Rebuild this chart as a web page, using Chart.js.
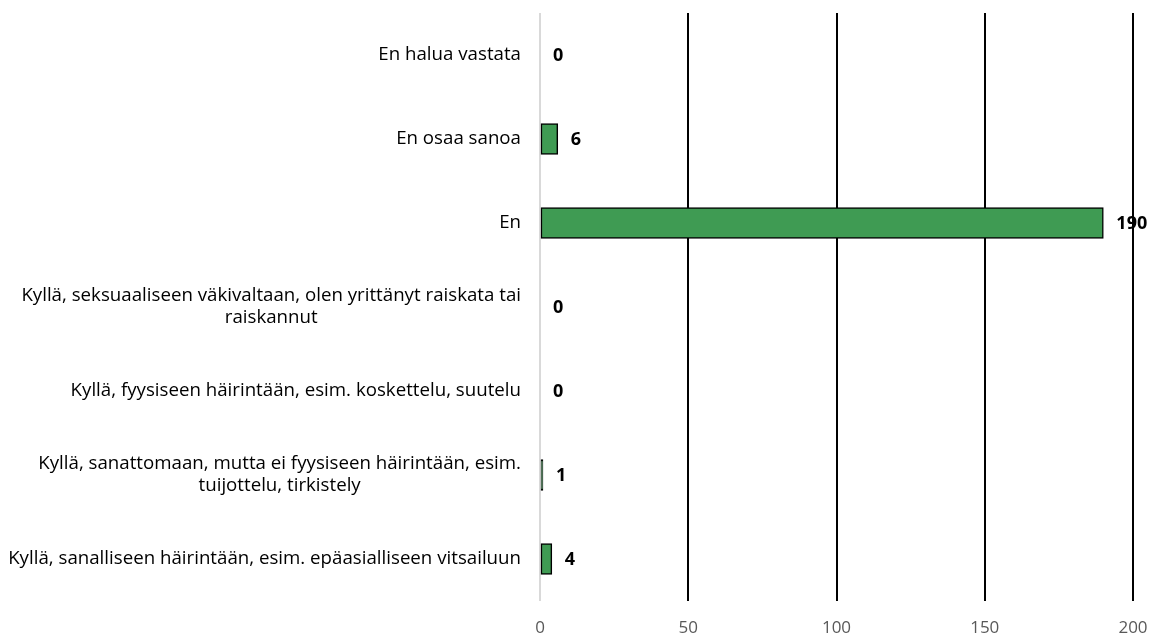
<!DOCTYPE html>
<html>
<head>
<meta charset="utf-8">
<script src="https://cdn.jsdelivr.net/npm/chart.js@4"></script>
<style>
  html, body { margin: 0; padding: 0; background: #fff; }
  #wrap { width: 1161px; height: 638px; }
</style>
</head>
<body>
<div id="wrap"><canvas id="chart"></canvas></div>
<script>
// Data
const categories = [
    ['En halua vastata'],
    ['En osaa sanoa'],
    ['En'],
    ['Kyllä, seksuaaliseen väkivaltaan, olen yrittänyt raiskata tai', 'raiskannut'],
    ['Kyllä, fyysiseen häirintään, esim. koskettelu, suutelu'],
    ['Kyllä, sanattomaan, mutta ei fyysiseen häirintään, esim.', 'tuijottelu, tirkistely'],
    ['Kyllä, sanalliseen häirintään, esim. epäasialliseen vitsailuun']
];
const answers = [0, 6, 190, 0, 0, 1, 4];
const xTicks = [0, 50, 100, 150, 200];

const fontFamily = '"Open Sans", sans-serif';

// Category labels: right-aligned blocks, lines centered within the block
const categoryLabels = {
    id: 'categoryLabels',
    afterDraw(chart) {
        const ctx = chart.ctx;
        const yScale = chart.scales.y;
        const right = chart.chartArea.left - 19;
        const lineH = 22;
        ctx.save();
        ctx.font = '18.7px ' + fontFamily;
        ctx.fillStyle = '#000';
        ctx.textAlign = 'center';
        ctx.textBaseline = 'middle';
        categories.forEach((lines, i) => {
            const y = yScale.getPixelForTick(i);
            const w = Math.max(...lines.map(l => ctx.measureText(l).width));
            const cx = right - w / 2;
            const y0 = y - (lines.length - 1) * lineH / 2;
            lines.forEach((l, j) => ctx.fillText(l, cx, y0 + j * lineH));
        });
        ctx.restore();
    }
};

// Value labels at the end of each bar
const valueLabels = {
    id: 'valueLabels',
    afterDatasetsDraw(chart) {
        const ctx = chart.ctx;
        const meta = chart.getDatasetMeta(0);
        ctx.save();
        ctx.font = 'bold 18px ' + fontFamily;
        ctx.fillStyle = '#000';
        ctx.textAlign = 'left';
        ctx.textBaseline = 'middle';
        meta.data.forEach((bar, i) => {
            ctx.fillText(String(answers[i]), bar.x + 13, bar.y + 1);
        });
        ctx.restore();
    }
};

const chart = new Chart(document.getElementById('chart').getContext('2d'), {
    type: 'bar',
    data: {
        labels: categories,
        datasets: [{
            data: answers,
            backgroundColor: '#3F9B53',
            borderColor: '#000',
            borderWidth: 1.5,
            borderSkipped: false,
            barThickness: 31
        }]
    },
    options: {
        indexAxis: 'y',
        responsive: true,
        maintainAspectRatio: false,
        animation: false,
        layout: { padding: { top: 13, right: 28, left: 0, bottom: 0 } },
        plugins: {
            legend: { display: false },
            tooltip: { enabled: false }
        },
        scales: {
            x: {
                min: 0,
                max: 200,
                afterBuildTicks(scale) {
                    scale.ticks = xTicks.map(v => ({ value: v }));
                },
                afterFit(scale) {
                    scale.height = 37;
                    scale.paddingLeft = 0;
                    scale.paddingRight = 0;
                },
                grid: {
                    drawTicks: false,
                    lineWidth: 2,
                    color: ctx => ctx.tick && ctx.tick.value === 0 ? '#d9d9d9' : '#000'
                },
                border: { display: false },
                ticks: {
                    padding: 17,
                    color: '#595959',
                    font: { family: fontFamily, size: 17 }
                }
            },
            y: {
                afterFit(scale) { scale.width = 540; },
                grid: { display: false },
                border: { display: false },
                ticks: { display: false }
            }
        }
    },
    plugins: [categoryLabels, valueLabels]
});
</script>
</body>
</html>
